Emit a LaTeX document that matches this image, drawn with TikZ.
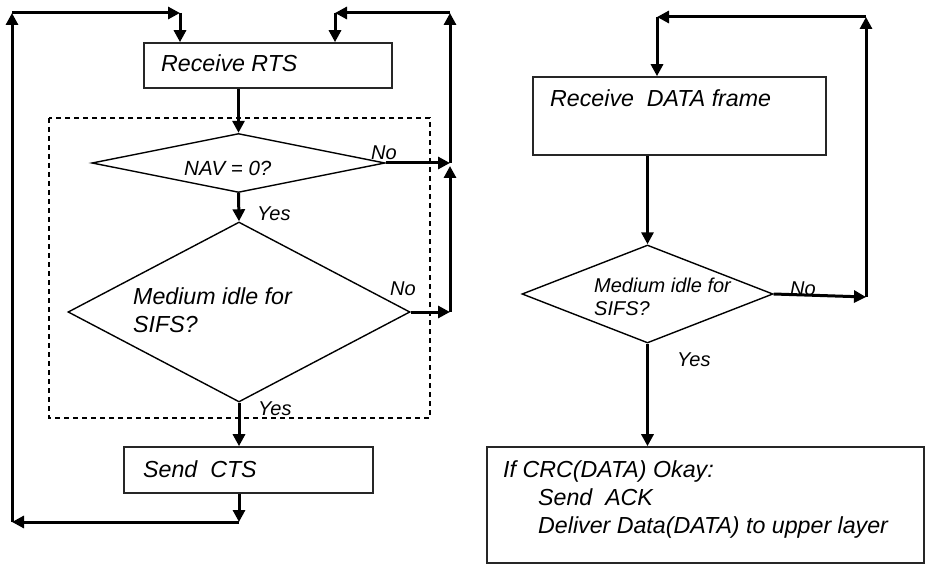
\documentclass[tikz,border=0pt]{standalone}
\usepackage{fontspec}
\setmainfont{Liberation Sans}
\usetikzlibrary{shapes.geometric,arrows.meta}
\tikzstyle{box}=[rectangle, draw=black!85, line width=1.6pt, inner sep=0pt]
\tikzstyle{decision}=[diamond, draw, line width=1.4pt, inner sep=0pt]
\tikzstyle{group}=[draw, line width=1.2pt, dash pattern=on 5pt off 4pt]
\tikzstyle{flow}=[-{Triangle[length=12pt,width=12pt]}, line width=3pt]
\tikzstyle{txt}=[anchor=base west, inner sep=0pt, font=\fontsize{23.2}{28}\selectfont\itshape]
\tikzstyle{smalltxt}=[txt, font=\fontsize{20}{24}\selectfont\itshape]

\begin{document}
\begin{tikzpicture}[x=1pt, y=-1pt]
  \useasboundingbox (0,0) rectangle (934,572);

  %% RTS / CTS side
  \draw[group] (49,118) rectangle (430,418);
  \draw (268,65.5) node[box, minimum width=248pt, minimum height=45pt] (rts) {};
  \draw (238.5,163) node[decision, minimum width=293pt, minimum height=59pt] (nav) {};
  \draw (239,312) node[decision, minimum width=342pt, minimum height=180pt] (sifs) {};
  \draw (248.5,470) node[box, minimum width=249pt, minimum height=46pt] (cts) {};

  \draw (161,72) node[txt] (rtstext) {Receive RTS};
  \draw (184,176) node[txt, font=\fontsize{20.5}{24}\selectfont\itshape] (navtext) {NAV = 0?};
  \draw (371,160) node[smalltxt] (navno) {No};
  \draw (257,220) node[smalltxt] (navyes) {Yes};
  \draw (133,304) node[txt] (sifstext) {Medium idle for};
  \draw (133,332) node[txt] (sifstext2) {SIFS?};
  \draw (390,295) node[smalltxt] (sifsno) {No};
  \draw (258,415) node[smalltxt] (sifsyes) {Yes};
  \draw (143,477) node[txt] (ctstext) {Send~~CTS};

  \coordinate (ctsout) at (239,522);
  \coordinate (leftbottom) at (12,522);
  \coordinate (lefttop) at (12,13);
  \coordinate (leftin) at (180,13);
  \coordinate (navno) at (450,163);
  \coordinate (sifsno) at (450,312);
  \coordinate (righttop) at (450,13);
  \coordinate (rightin) at (335,13);

  \draw[flow] (nav.north |- rts.south) -- (nav.north);
  \draw[flow] (nav.south) -- (sifs.north);
  \draw[flow] (sifs.south) -- (sifs.south |- cts.north);
  \draw[flow] (sifs.south |- cts.south) -- (ctsout);
  \draw[flow] (ctsout) -- (leftbottom);
  \draw[flow] (leftbottom) -- (lefttop);
  \draw[flow] (lefttop) -- (leftin);
  \draw[flow] (leftin) -- (leftin |- rts.north);

  \draw[flow] (nav.east) -- (navno);
  \draw[flow] (navno) -- (righttop);
  \draw[flow] (righttop) -- (rightin);
  \draw[flow] (rightin) -- (rightin |- rts.north);
  \draw[flow] (sifs.east) -- (sifsno);
  \draw[flow] (sifsno) -- ([yshift=-3pt]navno);

  %% DATA / ACK side
  \draw (679.5,116) node[box, minimum width=293pt, minimum height=78pt] (data) {};
  \draw (647.5,294) node[decision, minimum width=251pt, minimum height=98pt] (med) {};
  \draw (705.5,505) node[box, minimum width=437pt, minimum height=116pt] (crc) {};

  \draw (550,107) node[txt] (datatext) {Receive~~DATA frame};
  \draw (594,292) node[smalltxt] (medtext) {Medium idle for};
  \draw (594,315) node[smalltxt] (medtext2) {SIFS?};
  \draw (790,295) node[smalltxt] (medno) {No};
  \draw (677,366) node[smalltxt] (medyes) {Yes};
  \draw (503,477) node[txt] (crctext) {If CRC(DATA) Okay:};
  \draw (538,505) node[txt] (acktext) {Send~~ACK};
  \draw (538,533) node[txt] (delivertext) {Deliver Data(DATA) to upper layer};

  \coordinate (medout) at (866,297);
  \coordinate (farright) at (866,17);
  \coordinate (datain) at (657,17);

  \draw[flow] (med.north |- data.south) -- (med.north);
  \draw[flow] (med.south) -- (med.south |- crc.north);
  \draw[flow] (med.east) -- (medout);
  \draw[flow] (medout) -- (farright);
  \draw[flow] (farright) -- (datain);
  \draw[flow] (datain) -- (datain |- data.north);
\end{tikzpicture}
\end{document}
